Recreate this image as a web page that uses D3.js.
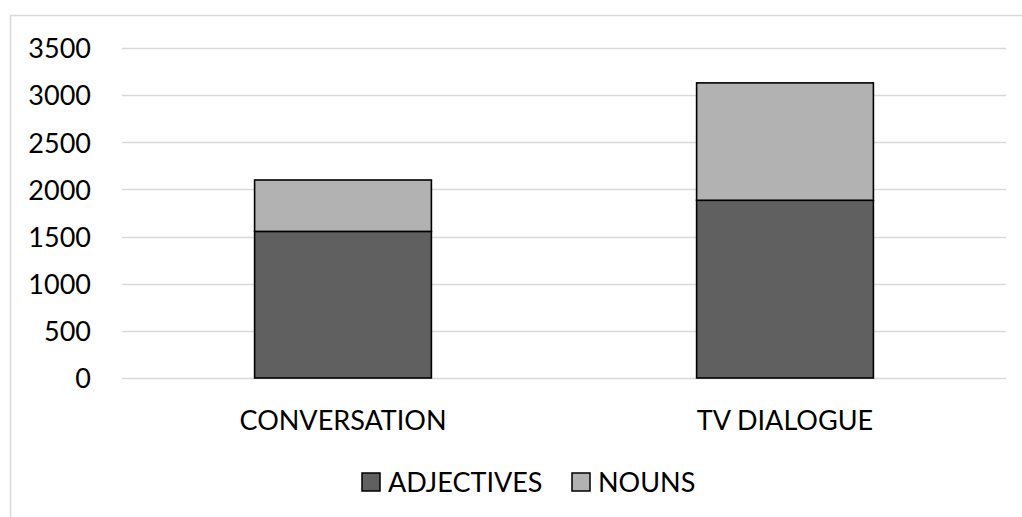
<!DOCTYPE html>
<html>
<head>
<meta charset="utf-8">
<script src="https://cdn.jsdelivr.net/npm/d3@7"></script>
<style>
  html, body { margin: 0; padding: 0; background: #fff; }
  svg { display: block; }
  text { font-family: Lato, "Open Sans", sans-serif; fill: #000; }
</style>
</head>
<body>
<svg id="chart" width="1022" height="517"></svg>
<script>
// Word counts by source and part of speech
const categories = ["CONVERSATION", "TV DIALOGUE"];
const seriesNames = ["ADJECTIVES", "NOUNS"];
const adjectives = [1555, 1885];
const nouns = [545, 1245];
const yTicks = [0, 500, 1000, 1500, 2000, 2500, 3000, 3500];
const seriesColors = ["#606060", "#b2b2b2"];

const svg = d3.select("#chart");
const W = 1022, H = 517;
const fontSize = 27;

// Outer chart frame (extends past the visible area on right and bottom)
svg.append("rect")
  .attr("x", 10.5).attr("y", 15.5)
  .attr("width", W + 20).attr("height", H + 20)
  .attr("fill", "#fff").attr("stroke", "#d9d9d9").attr("stroke-width", 1.5);

const plot = { left: 122, right: 1006, top: 48, bottom: 378 };

const x = d3.scaleBand().domain(categories)
  .range([plot.left, plot.right]).paddingInner(0.6).paddingOuter(0.3);
const y = d3.scaleLinear().domain([0, 3500]).range([plot.bottom, plot.top]);

// Horizontal gridlines
svg.append("g").selectAll("line").data(yTicks).join("line")
  .attr("x1", plot.left).attr("x2", plot.right)
  .attr("y1", d => Math.round(y(d)) + 0.5).attr("y2", d => Math.round(y(d)) + 0.5)
  .attr("stroke", "#d9d9d9").attr("stroke-width", 1.5);

// Y axis labels
const yAxis = d3.axisLeft(y).tickValues(yTicks).tickSize(0).tickPadding(31).tickFormat(d3.format("d"));
const yg = svg.append("g").attr("transform", `translate(${plot.left},0)`).call(yAxis);
yg.select(".domain").remove();
yg.selectAll("text").style("font-size", fontSize + "px").attr("font-family", null).attr("dy", "0.36em");

// Stacked bars
const rows = categories.map((c, i) => ({ cat: c, ADJECTIVES: adjectives[i], NOUNS: nouns[i] }));
const stacked = d3.stack().keys(seriesNames)(rows);

svg.append("g").selectAll("g").data(stacked).join("g")
  .attr("fill", (d, i) => seriesColors[i])
  .selectAll("rect").data(d => d).join("rect")
  .attr("x", d => x(d.data.cat))
  .attr("width", x.bandwidth())
  .attr("y", d => y(d[1]))
  .attr("height", d => y(d[0]) - y(d[1]))
  .attr("stroke", "#000").attr("stroke-width", 1.6);

// Category labels
const xAxis = d3.axisBottom(x).tickSize(0).tickPadding(0);
const xg = svg.append("g").attr("transform", `translate(0,${plot.bottom})`).call(xAxis);
xg.select(".domain").remove();
xg.selectAll("text").style("font-size", fontSize + "px").attr("font-family", null)
  .attr("y", 52).attr("dy", null);

// Legend
const legendItems = [
  { name: seriesNames[0], color: seriesColors[0], x: 362 },
  { name: seriesNames[1], color: seriesColors[1], x: 572 }
];
const lg = svg.append("g");
const li = lg.selectAll("g").data(legendItems).join("g")
  .attr("transform", d => `translate(${d.x},473)`);
li.append("rect").attr("width", 18).attr("height", 18)
  .attr("fill", d => d.color).attr("stroke", "#000").attr("stroke-width", 1.5);
li.append("text").attr("x", 26).attr("y", 19)
  .style("font-size", fontSize + "px").text(d => d.name);
</script>
</body>
</html>
